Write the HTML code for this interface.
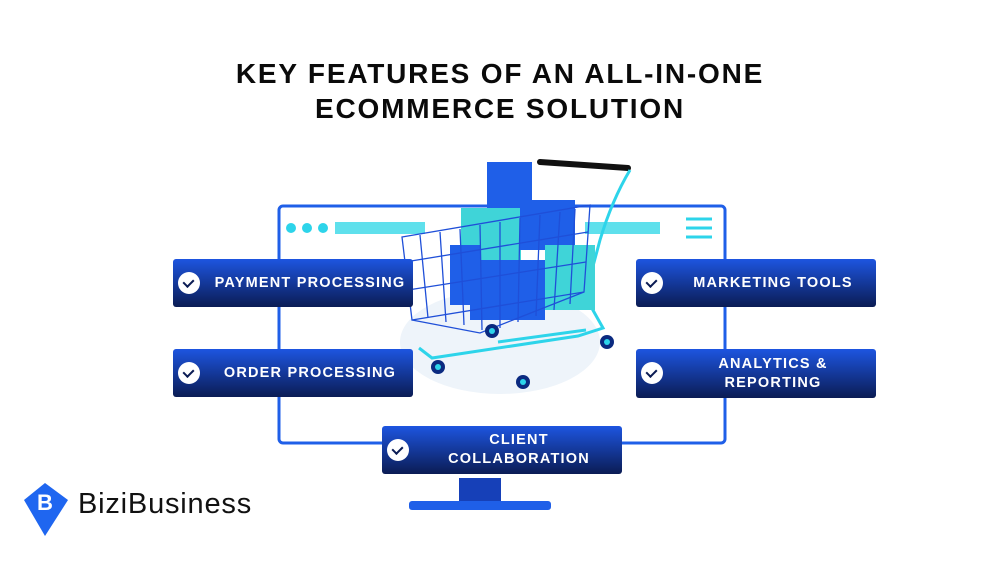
<!DOCTYPE html>
<html><head><style>
body{margin:0;width:1000px;height:563px;background:#fff;position:relative;overflow:hidden;font-family:"Liberation Sans",sans-serif}
.t{position:absolute;left:0;width:1000px;text-align:center;font-weight:bold;font-size:28px;color:#0a0a0a;letter-spacing:1.8px}
.b{position:absolute;width:240px;height:48px;border-radius:3px;background:linear-gradient(#1d55e0,#0b1c54);color:#fff;font-weight:bold;font-size:14.5px;letter-spacing:1.2px;display:flex;align-items:center;justify-content:center;text-align:center;line-height:19px;box-sizing:border-box;padding-left:34px;white-space:nowrap}
.b i{position:absolute;left:5px;top:13px;width:22px;height:22px;border-radius:50%;background:#fff}
.b i:after{content:"";position:absolute;left:7px;top:5px;width:5px;height:8px;border:solid #0b1c54;border-width:0 2px 2px 0;transform:rotate(45deg)}
</style></head><body>
<div class="t" style="top:58px">KEY FEATURES OF AN ALL-IN-ONE</div>
<div class="t" style="top:93px">ECOMMERCE SOLUTION</div>
<svg width="1000" height="563" style="position:absolute;left:0;top:0">
<rect x="279" y="206" width="446" height="237" rx="4" fill="none" stroke="#1f5fe8" stroke-width="3"/>
<circle cx="291" cy="228" r="5" fill="#2dd4ea"/><circle cx="307" cy="228" r="5" fill="#2dd4ea"/><circle cx="323" cy="228" r="5" fill="#2dd4ea"/>
<rect x="335" y="222" width="90" height="12" fill="#5fe0ec"/>
<rect x="585" y="222" width="75" height="12" fill="#5fe0ec"/>
<g stroke="#2dd4ea" stroke-width="3"><line x1="686" y1="219" x2="712" y2="219"/><line x1="686" y1="228" x2="712" y2="228"/><line x1="686" y1="237" x2="712" y2="237"/></g>
<rect x="459" y="478" width="42" height="25" fill="#1640b8"/>
<rect x="409" y="501" width="142" height="9" rx="3" fill="#1f5fe8"/>
<ellipse cx="500" cy="342" rx="100" ry="52" fill="#eef4fa"/>
<line x1="540" y1="162" x2="628" y2="168" stroke="#111" stroke-width="6" stroke-linecap="round"/>
<path d="M630 170 Q612 200 600 240 L585 296 L603 328 L578 336 L432 358 L419 348" fill="none" stroke="#2dd4ea" stroke-width="3"/>
<path d="M498 342 L586 330" stroke="#2dd4ea" stroke-width="3"/>
<rect x="487" y="162" width="45" height="48" fill="#1f5fe8"/>
<rect x="461" y="208" width="60" height="55" fill="#3fd4d8"/>
<rect x="520" y="200" width="55" height="50" fill="#1f5fe8"/>
<rect x="545" y="245" width="50" height="65" fill="#3fd4d8"/>
<rect x="450" y="245" width="30" height="60" fill="#1f5fe8"/>
<rect x="470" y="260" width="75" height="60" fill="#1f5fe8"/>
<g stroke="#1f4fd8" stroke-width="1.3" fill="none">
<path d="M402 237 L590 205 L584 292 L412 320 Z"/>
<path d="M412 320 L480 333 L584 292"/>
<path d="M405 262 L588 232 M408 290 L586 262"/>
<path d="M420 235 L428 318 M440 232 L446 322 M460 229 L464 325 M480 225 L482 330 M500 222 L500 328 M520 218 L518 322 M540 215 L536 316 M560 212 L554 310 M575 209 L570 304"/>
</g>
<g fill="#0b2a80"><circle cx="438" cy="367" r="7"/><circle cx="492" cy="331" r="7"/><circle cx="523" cy="382" r="7"/><circle cx="607" cy="342" r="7"/></g>
<g fill="#2dd4ea"><circle cx="438" cy="367" r="3"/><circle cx="492" cy="331" r="3"/><circle cx="523" cy="382" r="3"/><circle cx="607" cy="342" r="3"/></g>
<path d="M45 483 L68 500 L45 536 L24 500 Z" fill="#1f66f0"/>
<text x="37" y="510" font-family="Liberation Sans" font-weight="bold" font-size="22" fill="#fff">B</text>
<text x="78" y="513" font-family="Liberation Sans" font-size="29" letter-spacing="0.8" fill="#111">BiziBusiness</text>
</svg>
<div class="b" style="left:173px;top:259px"><i></i>PAYMENT PROCESSING</div>
<div class="b" style="left:173px;top:349px"><i></i>ORDER PROCESSING</div>
<div class="b" style="left:636px;top:259px"><i></i>MARKETING TOOLS</div>
<div class="b" style="left:636px;top:349px;height:49px"><i></i>ANALYTICS &amp;<br>REPORTING</div>
<div class="b" style="left:382px;top:426px"><i></i>CLIENT<br>COLLABORATION</div>
</body></html>
